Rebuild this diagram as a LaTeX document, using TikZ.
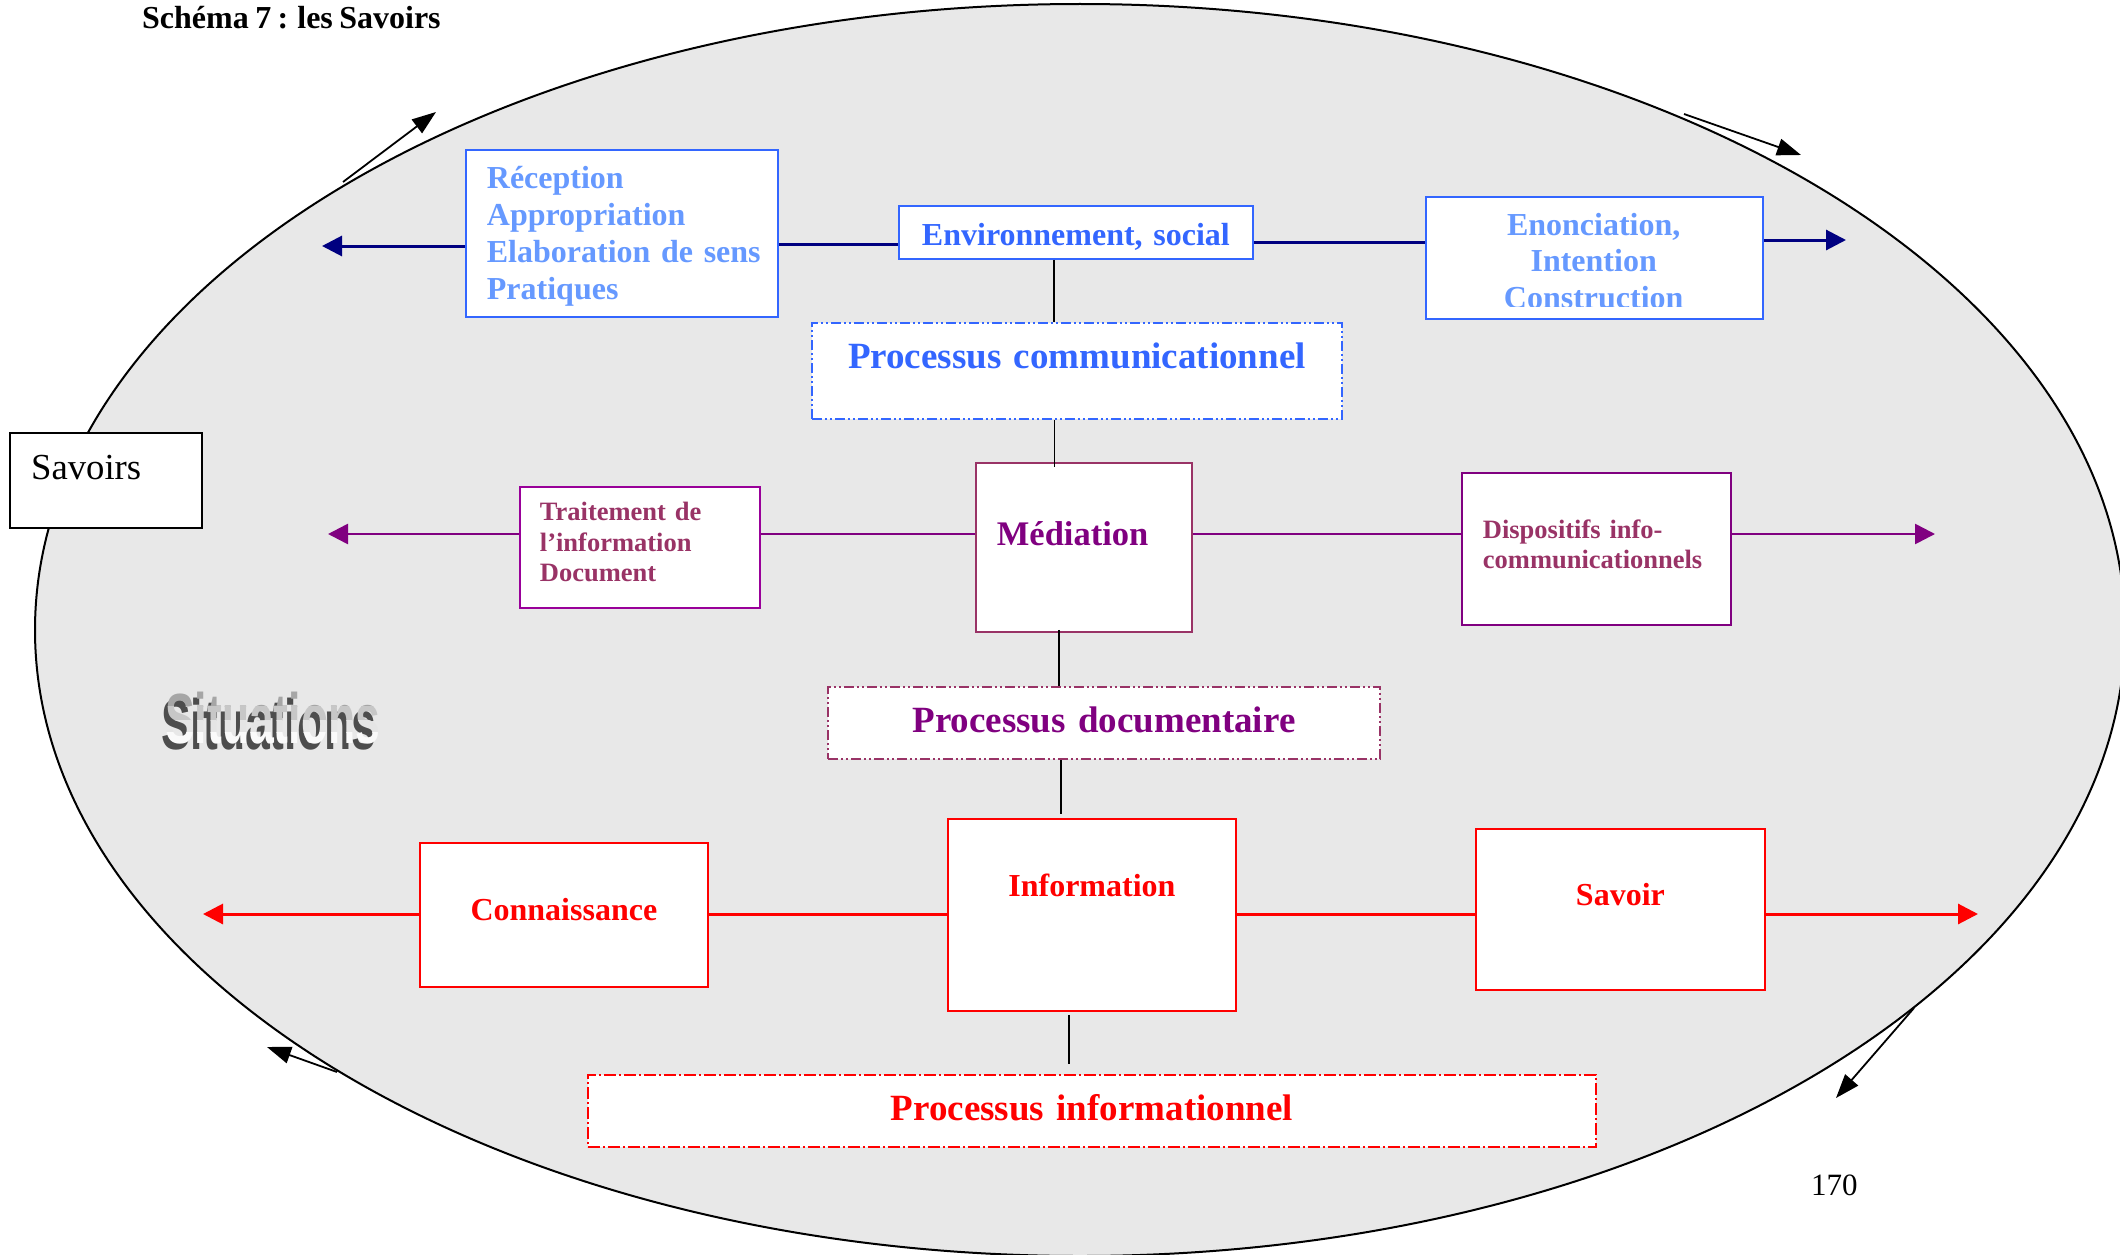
\documentclass[tikz,border=0pt]{standalone}
\usepackage{fontspec}
\setmainfont{Liberation Serif}[WordSpace=0.8]
\newfontfamily\sitfont{Liberation Sans}
\usetikzlibrary{arrows.meta}
\definecolor{lightblue}{HTML}{6699FF}
\definecolor{midblue}{HTML}{3366FF}
\definecolor{navyc}{HTML}{000080}
\definecolor{purp}{HTML}{800080}
\definecolor{plum}{HTML}{993366}
\definecolor{purpb}{HTML}{990099}
\definecolor{ellgray}{HTML}{E8E8E8}
\definecolor{redc}{HTML}{FF0000}
\definecolor{sitdark}{HTML}{4D4D4D}
\tikzset{
  box/.style={draw, fill=white, line width=1.8pt, inner ysep=0pt, anchor=north west},
  bigbold/.style={font=\bfseries\fontsize{32}{36.7}\selectfont},
  procfont/.style={font=\bfseries\fontsize{37}{42}\selectfont},
  smallbold/.style={font=\bfseries\fontsize{26.5}{30.5}\selectfont},
  ddotpat/.style={dash pattern=on 10pt off 3pt on 2pt off 3pt on 2pt off 3pt},
  dotpat/.style={dash pattern=on 12pt off 3pt on 2pt off 3pt},
  navyline/.style={draw=navyc, line width=3pt},
  purpline/.style={draw=purp, line width=2.6pt},
  redline/.style={draw=redc, line width=3pt},
  tipc/.style={-{Triangle[length=20pt,width=20pt]}},
  blackarrow/.style={draw=black, line width=1.8pt, -{Triangle[length=24pt,width=17pt]}},
  vlink/.style={draw=black, line width=1.8pt},
  sit/.style={anchor=base west, inner sep=0pt, xscale=0.627, font=\sitfont\bfseries\fontsize{71}{75}\selectfont}
}
\begin{document}
\begin{tikzpicture}[x=1pt,y=-1pt]
\useasboundingbox (0,0) rectangle (2120,1255);
\fill[white] (0,0) rectangle (2120,1255);
% big ellipse
\filldraw[fill=ellgray, draw=black, line width=2pt] (1080,630) ellipse [x radius=1045, y radius=626];

% title and page number
\node[anchor=base west, inner sep=0pt, font=\bfseries\fontsize{32}{36}\selectfont] (title) at (142,29) {Schéma 7 : les Savoirs};
\node[anchor=base west, inner sep=0pt, font=\fontsize{31}{34}\selectfont] (pagenum) at (1811,1195) {170};

% Situations (word-art)
\node[sit, text=sitdark] (sitshadow) at (161,749) {Situations};
\begin{scope}\clip (100,650) rectangle (450,706);
\node[sit, text=black!35] (sita) at (165,743) {Situations};\end{scope}
\begin{scope}\clip (100,706) rectangle (450,720);
\node[sit, text=black!22] (sitb) at (165,743) {Situations};\end{scope}
\begin{scope}\clip (100,720) rectangle (450,732);
\node[sit, text=black!10] (sitc) at (165,743) {Situations};\end{scope}
\begin{scope}\clip (100,732) rectangle (450,760);
\node[sit, text=black!2] (sitd) at (165,743) {Situations};\end{scope}

% Savoirs box
\node[box, draw=black, line width=2.2pt, text=black, minimum width=192pt, inner xsep=21pt, text width=150pt, align=left,
      text height=46pt, text depth=49pt, font=\fontsize{36.7}{40}\selectfont] (savoirs) at (9,432) {Savoirs};

% top row
\node[box, bigbold, draw=midblue, text=lightblue, minimum width=312pt, inner xsep=21pt, text width=270pt, align=left,
      text height=39pt, text depth=128pt] (rec) at (465,149)
      {\mbox{Réception}\\\mbox{Appropriation}\\\mbox{Elaboration de sens}\\\mbox{Pratiques}};
\node[box, bigbold, draw=midblue, text=midblue, minimum width=354pt, inner xsep=10pt, text width=334pt, align=center,
      text height=40pt, text depth=13pt] (env) at (898,205) {Environnement, social};
\node[box, draw=midblue, minimum width=337pt, minimum height=122pt] (enon) at (1425,196) {};
\begin{scope}
\clip (1425,196) rectangle (1762,306);
\node[bigbold, anchor=north west, inner ysep=0pt, inner xsep=18.5pt, text width=300pt, align=center, text=lightblue,
      text height=39pt, text depth=83pt] (enontext) at (1425,196) {Enonciation,\\Intention\\Construction};
\end{scope}
\node[box, procfont, ddotpat, draw=midblue, text=midblue, minimum width=530pt, inner xsep=10pt, text width=510pt, align=center,
      text height=46pt, text depth=50pt] (pc) at (811,322) {Processus communicationnel};

% middle row
\node[box, smallbold, draw=purpb, text=plum, minimum width=240pt, inner xsep=20pt, text width=200pt, align=left,
      text height=34pt, text depth=87pt] (trait) at (519,486) {Traitement de\\l'information\\Document};
\node[box, draw=plum, text=purp, minimum width=216pt, inner xsep=21pt, text width=174pt, align=left,
      text height=83pt, text depth=86pt, font=\bfseries\fontsize{34.5}{38}\selectfont] (med) at (975,462) {Médiation};
\node[box, smallbold, draw=purp, text=plum, minimum width=269pt, inner xsep=21pt, text width=227pt, align=left,
      text height=66pt, text depth=86pt, font=\bfseries\fontsize{26.5}{30}\selectfont] (disp) at (1461,472) {Dispositifs info-\\communicationnels};
\node[box, procfont, ddotpat, draw=plum, text=purp, minimum width=552pt, inner xsep=10pt, text width=532pt, align=center,
      text height=46pt, text depth=26pt] (pd) at (827,686) {Processus documentaire};

% bottom row
\node[box, bigbold, draw=redc, text=redc, minimum width=288pt, inner xsep=10pt, text width=268pt, align=center,
      text height=78pt, text depth=66pt] (conn) at (419,842) {Connaissance};
\node[box, bigbold, draw=redc, text=redc, minimum width=288pt, inner xsep=10pt, text width=268pt, align=center,
      text height=78pt, text depth=114pt] (info) at (947,818) {Information};
\node[box, bigbold, draw=redc, text=redc, minimum width=289pt, inner xsep=10pt, text width=269pt, align=center,
      text height=77pt, text depth=84pt] (sav) at (1475,828) {Savoir};
\node[box, procfont, dotpat, draw=redc, text=redc, minimum width=1008pt, inner xsep=10pt, text width=988pt, align=center,
      text height=46pt, text depth=26pt] (pi) at (587,1074) {Processus informationnel};

% free ends
\coordinate (navyL) at (322,246);
\coordinate (navyR) at (1846,240);
\coordinate (purpL) at (328,534);
\coordinate (purpR) at (1935,534);
\coordinate (redL) at (203,914);
\coordinate (redR) at (1978,914);

% navy connectors
\draw[navyline, tipc] (rec.west |- 0,246) -- (navyL);
\draw[navyline] (rec.east |- 0,244) -- (env.west |- 0,244);
\draw[navyline] (env.east |- 0,242) -- (enon.west |- 0,242);
\draw[navyline, tipc] (enon.east |- 0,240) -- (navyR);

% purple connectors
\draw[purpline, tipc] (trait.west |- 0,534) -- (purpL);
\draw[purpline] (trait.east |- 0,534) -- (med.west |- 0,534);
\draw[purpline] (med.east |- 0,534) -- (disp.west |- 0,534);
\draw[purpline, tipc] (disp.east |- 0,534) -- (purpR);

% red connectors
\draw[redline, tipc] (conn.west |- 0,914) -- (redL);
\draw[redline] (conn.east |- 0,914) -- (info.west |- 0,914);
\draw[redline] (info.east |- 0,914) -- (sav.west |- 0,914);
\draw[redline, tipc] (sav.east |- 0,914) -- (redR);

% vertical links
\draw[vlink] (env.south -| 1054,0) -- (pc.north -| 1054,0);
\draw[vlink, shorten >=-5pt] (pc.south -| 1054.5,0) -- (med.north -| 1054.5,0);
\draw[vlink, shorten <=-3pt] (med.south -| 1059,0) -- (pd.north -| 1059,0);
\draw[vlink, shorten >=4pt] (pd.south -| 1061,0) -- (info.north -| 1061,0);
\draw[vlink, shorten <=3pt, shorten >=10pt] (info.south -| 1069,0) -- (pi.north -| 1069,0);

% circulation arrows around the ellipse
\coordinate (c1s) at (343,182); \coordinate (c1e) at (436,112);
\coordinate (c2s) at (1684,114); \coordinate (c2e) at (1801,155);
\coordinate (c3s) at (1914,1008); \coordinate (c3e) at (1836,1098);
\coordinate (c4s) at (337,1072); \coordinate (c4e) at (267,1047);
\draw[blackarrow] (c1s) -- (c1e);
\draw[blackarrow] (c2s) -- (c2e);
\draw[blackarrow] (c3s) -- (c3e);
\draw[blackarrow] (c4s) -- (c4e);
\end{tikzpicture}
\end{document}
